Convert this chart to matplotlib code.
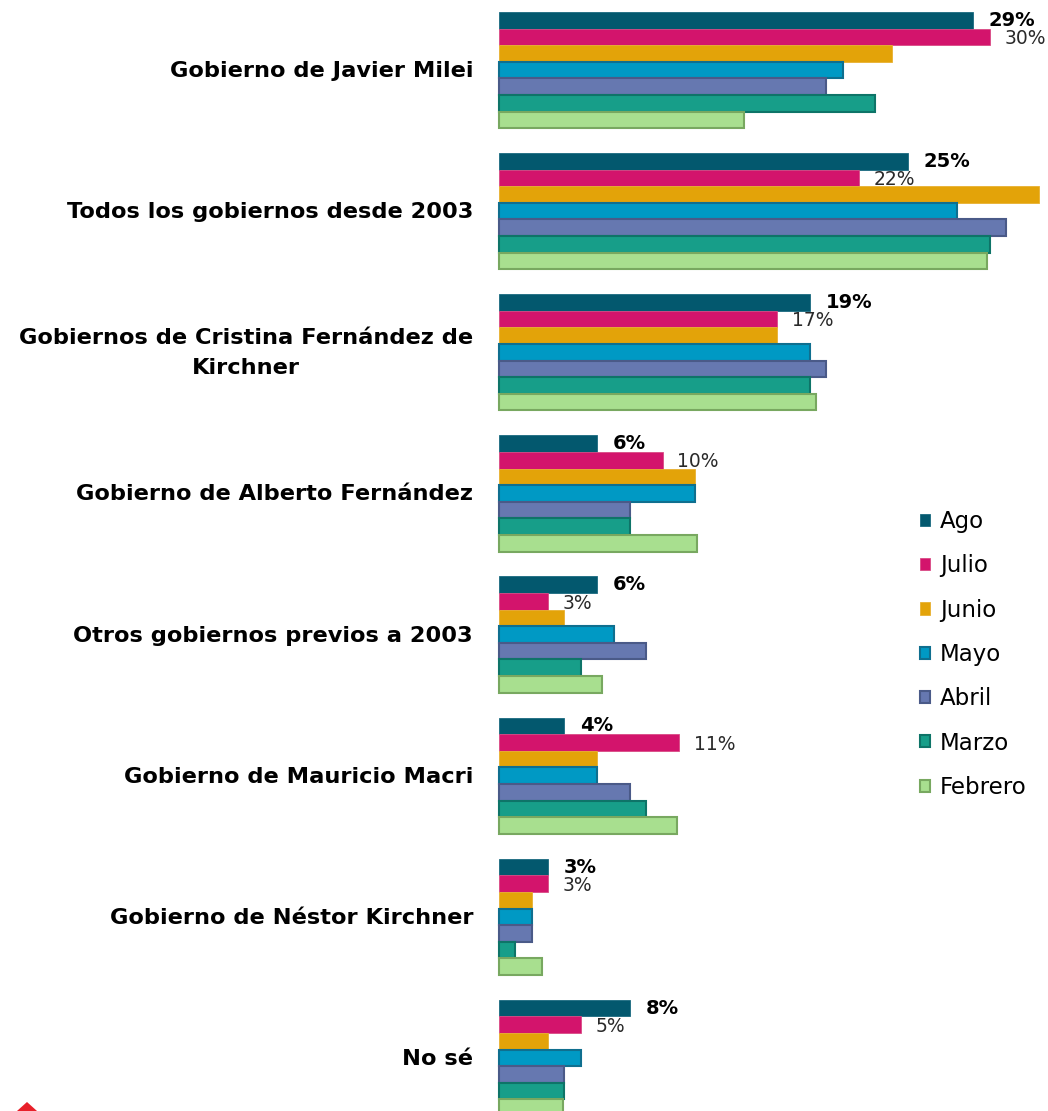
import numpy as np
import matplotlib
matplotlib.use("Agg")
import matplotlib.pyplot as plt
from matplotlib.patches import Polygon

# categories, top to bottom
categories = [
    "Gobierno de Javier Milei",
    "Todos los gobiernos desde 2003",
    "Gobiernos de Cristina Fernández de\nKirchner",
    "Gobierno de Alberto Fernández",
    "Otros gobiernos previos a 2003",
    "Gobierno de Mauricio Macri",
    "Gobierno de Néstor Kirchner",
    "No sé",
]

months = ["Ago", "Julio", "Junio", "Mayo", "Abril", "Marzo", "Febrero"]

ago = [29, 25, 19, 6, 6, 4, 3, 8]
julio = [30, 22, 17, 10, 3, 11, 3, 5]
junio = [24, 33, 17, 12, 4, 6, 2, 3]
mayo = [21, 28, 19, 12, 7, 6, 2, 5]
abril = [20, 31, 20, 8, 9, 8, 2, 4]
marzo = [23, 30, 19, 8, 5, 9, 1, 4]
febrero = [15, 29.8, 19.4, 12.1, 6.3, 10.9, 2.6, 3.9]

series = [ago, julio, junio, mayo, abril, marzo, febrero]
fills = ["#03586E", "#D3146C", "#E3A309", "#0099C4", "#6678B0", "#179E89", "#A8DF8F"]
edges = ["#1A6A80", "#D94A85", "#E8B030", "#0F6F8F", "#4A5A88", "#0E7468", "#78A860"]

W, H = 1048, 1111
fig = plt.figure(figsize=(W / 100, H / 100), dpi=100)
ax = fig.add_axes([499 / W, 0, 1 - 499 / W, 1])

px_per_group = 141.14
h = 16.6 / px_per_group
y = np.arange(len(categories))

for j, (vals, fc, ec) in enumerate(zip(series, fills, edges)):
    lw = 0.6 if j < 3 else 1.5
    ax.barh(y + (j - 3) * h, vals, height=h, color=fc, edgecolor=ec,
            linewidth=lw, label=months[j], clip_on=False)

# data labels for Ago (bold) and Julio (regular)
for i in range(len(categories)):
    ax.text(ago[i] + 0.95, y[i] - 3 * h, f"{ago[i]}%", ha="left", va="center",
            fontsize=14, fontweight="bold", color="black")
    ax.text(julio[i] + 0.9, y[i] - 1.9 * h, f"{julio[i]}%", ha="left", va="center",
            fontsize=13.5, color="#2a2a2a")

ax.set_xlim(0, 549 / 16.36)
ax.set_ylim(7 + 53 / px_per_group, -70 / px_per_group)
ax.axis("off")

# category labels
for i, cat in enumerate(categories):
    fig.text(473 / W, 1 - (71 + i * px_per_group) / H, cat, ha="right",
             va="center", multialignment="center", fontsize=16.2,
             fontweight="bold", linespacing=1.6)

leg = ax.legend(loc="upper left", bbox_to_anchor=((920 - 499) / (W - 499), 1 - 510 / H),
                frameon=False, fontsize=16.5, handlelength=0.44, handleheight=0.44,
                handletextpad=0.42, labelspacing=0.93, borderpad=0, borderaxespad=0)

# small red logo tip at the bottom left
fig.patches.append(Polygon([[17 / W, 0], [27 / W, 9 / H], [37 / W, 0]],
                           closed=True, transform=fig.transFigure,
                           facecolor="#E8202A", edgecolor="none"))

fig.savefig("out.png", dpi=100)
